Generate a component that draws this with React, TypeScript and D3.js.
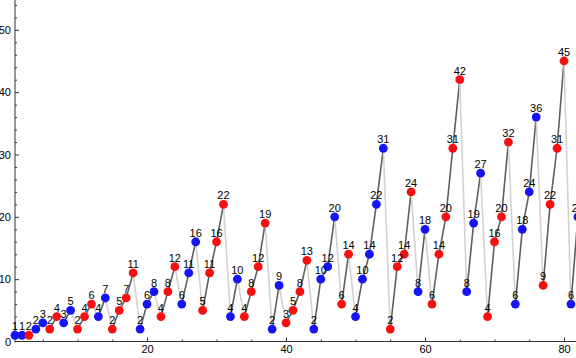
import React, { useEffect, useRef } from "react";
import { axisBottom, axisLeft, range, scaleLinear, select } from "d3";

// sequence values (index 1..82)
const values = [
  1, 1, 1, 2, 3, 2, 4, 3, 5, 2, 4, 6, 4, 7, 2, 5, 7, 11, 2, 6, 8, 4, 8, 12, 6,
  11, 16, 5, 11, 16, 22, 4, 10, 4, 8, 12, 19, 2, 9, 3, 5, 8, 13, 2, 10, 12, 20,
  6, 14, 4, 10, 14, 22, 31, 2, 12, 14, 24, 8, 18, 6, 14, 20, 31, 42, 8, 19, 27,
  4, 16, 20, 32, 6, 18, 24, 36, 9, 22, 31, 45, 6, 20,
];
// labels shown above each point
const labels = [
  1, 1, 2, 2, 3, 2, 4, 3, 5, 2, 4, 6, 4, 7, 2, 5, 7, 11, 2, 6, 8, 4, 8, 12, 6,
  11, 16, 5, 11, 16, 22, 4, 10, 4, 8, 12, 19, 2, 9, 3, 5, 8, 13, 2, 10, 12, 20,
  6, 14, 4, 10, 14, 22, 31, 2, 12, 14, 24, 8, 18, 6, 14, 20, 31, 42, 8, 19, 27,
  4, 16, 20, 32, 6, 18, 24, 36, 9, 22, 31, 45, 6, 20,
];
// b = blue, r = red
const groups = "bbrbbrrbbrrrbbrrrrbbbrrrbbbrrrrbbrrrrbbrrrrbbbbrrbbbbbrrrrbbrrrrrbbbrrrrbbbbrrrrbb".split("");
const xMajorTicks = [20, 40, 60, 80];
const yMajorTicks = [0, 10, 20, 30, 40, 50];

const WIDTH = 576;
const HEIGHT = 358;
const FONT = "'Liberation Sans', Arial, sans-serif";

const App = () => {
  const svgRef = useRef<SVGSVGElement | null>(null);

  useEffect(() => {
    const svg = select(svgRef.current);
    svg.selectAll("*").remove();

    const x = scaleLinear().domain([1, 80]).range([15, 564]);
    const y = scaleLinear().domain([0, 45]).range([341.5, 61]);
    const x0 = x(1);
    const y0 = y(0);

    const data = values.map((v, i) => ({
      n: i + 1,
      v,
      label: labels[i],
      g: groups[i],
    }));

    // y axis (minor + major)
    const yMinor = svg.append("g").attr("transform", `translate(${x0},0)`);
    yMinor
      .call(
        axisLeft(y)
          .tickValues(range(0, 55, 2).filter((t) => t % 10 !== 0))
          .tickFormat(() => "")
          .tickSizeInner(-2)
          .tickSizeOuter(0)
      );
    yMinor.select(".domain").remove();
    const yMajor = svg.append("g").attr("transform", `translate(${x0},0)`);
    yMajor.call(
      axisLeft(y)
        .tickValues(yMajorTicks)
        .tickSizeInner(-4)
        .tickSizeOuter(0)
        .tickPadding(4)
    );
    yMajor.select(".domain").remove();
    yMajor.selectAll(".tick line").filter((d) => d === 0).remove();

    // x axis (minor + major)
    const xMinor = svg.append("g").attr("transform", `translate(0,${y0})`);
    xMinor.call(
      axisBottom(x)
        .tickValues(range(5, 85, 5).filter((t) => t % 20 !== 0))
        .tickFormat(() => "")
        .tickSizeInner(-2)
        .tickSizeOuter(0)
    );
    xMinor.select(".domain").remove();
    const xMajor = svg.append("g").attr("transform", `translate(0,${y0})`);
    xMajor.call(
      axisBottom(x)
        .tickValues(xMajorTicks)
        .tickSizeInner(-4)
        .tickSizeOuter(0)
        .tickPadding(4)
    );
    xMajor.select(".domain").remove();

    svg
      .selectAll(".tick text")
      .attr("font-family", FONT)
      .attr("font-size", 11)
      .attr("fill", "#000");
    svg.selectAll(".tick line").attr("stroke", "#333");

    // axis lines
    svg
      .append("line")
      .attr("x1", x0)
      .attr("x2", WIDTH)
      .attr("y1", y0)
      .attr("y2", y0)
      .attr("stroke", "#333");
    svg
      .append("line")
      .attr("x1", x0)
      .attr("x2", x0)
      .attr("y1", 0)
      .attr("y2", y0 + 1)
      .attr("stroke", "#333");

    // connecting segments
    const segs = data.slice(1).map((d, i) => ({ a: data[i], b: d }));
    svg
      .append("g")
      .selectAll("line")
      .data(segs)
      .enter()
      .append("line")
      .attr("x1", (s) => x(s.a.n))
      .attr("y1", (s) => y(s.a.v))
      .attr("x2", (s) => x(s.b.n))
      .attr("y2", (s) => y(s.b.v))
      .attr("stroke", (s) => (s.a.g === s.b.g ? "#5f5f5f" : "#d2d2d2"))
      .attr("stroke-width", 1.6);

    // points
    svg
      .append("g")
      .selectAll("circle")
      .data(data)
      .enter()
      .append("circle")
      .attr("cx", (d) => x(d.n))
      .attr("cy", (d) => y(d.v))
      .attr("r", 4.4)
      .attr("fill", (d) => (d.g === "r" ? "#f81010" : "#1414f4"));

    // labels
    svg
      .append("g")
      .selectAll("text")
      .data(data)
      .enter()
      .append("text")
      .attr("x", (d) => x(d.n))
      .attr("y", (d) => y(d.v) - 5)
      .attr("text-anchor", "middle")
      .attr("font-family", FONT)
      .attr("font-size", 11)
      .attr("fill", "#000")
      .text((d) => d.label);
  }, []);

  return (
    <svg
      ref={svgRef}
      width={WIDTH}
      height={HEIGHT}
      style={{ position: "absolute", left: 0, top: 0, background: "#fff" }}
    ></svg>
  );
};

export default App;
